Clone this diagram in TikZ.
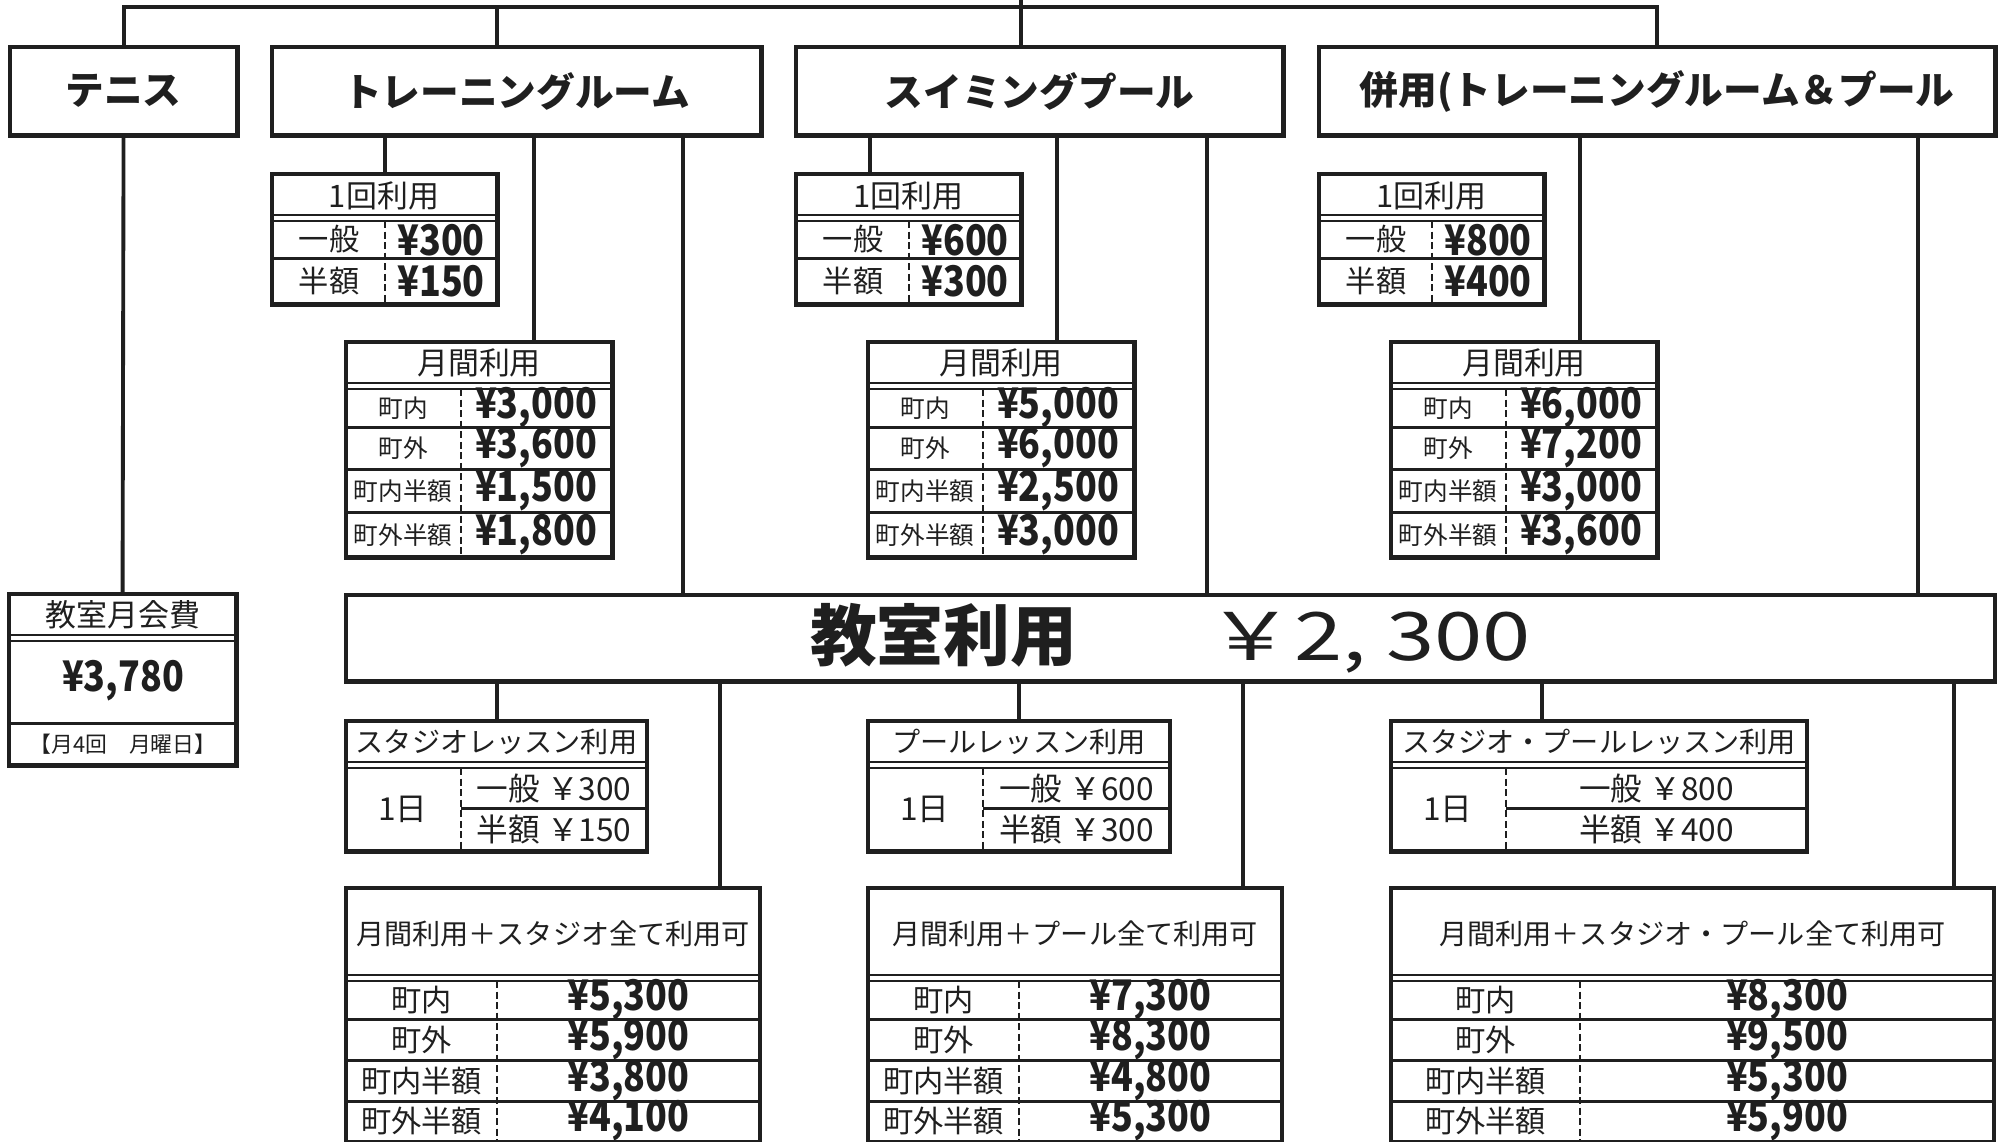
\documentclass[tikz,border=0pt]{standalone}
\usepackage{fontspec}
\setmainfont{Noto Sans CJK JP}

\begin{document}
\begin{tikzpicture}[x=0.01cm, y=-0.01cm, color=black!88,
  tbox/.style={draw, line width=1.4pt, anchor=north west, inner sep=0pt, outer sep=0pt},
  conn/.style={line width=1.1pt},
  hdrline/.style={line width=0.8pt},
  thinline/.style={line width=0.45pt},
  rowline/.style={line width=0.85pt},
  cut/.style={line width=0.5pt, dash pattern=on 2pt off 1pt},
  toplbl/.style={font=\fontsize{11}{13}\selectfont\bfseries},
  hdr/.style={font=\fontsize{8.8}{10}\selectfont},
  lhdr/.style={font=\fontsize{8}{10}\selectfont},
  celltxt/.style={font=\fontsize{8.6}{10}\selectfont},
  rowlbl/.style={font=\fontsize{7}{8}\selectfont},
  price/.style={font=\fontsize{12}{13}\selectfont\bfseries\addfontfeature{FakeStretch=0.85}},
  lesson/.style={font=\fontsize{9}{10}\selectfont},
  memo/.style={font=\fontsize{6.2}{7}\selectfont}]
\useasboundingbox (0,0) rectangle (2009,1141);
\clip (0,0) rectangle (2009,1141);

% Facilities
\node[tbox, minimum width=2.27cm, minimum height=0.88cm, toplbl] (tennis) at (10,47) {テニス};
\node[tbox, minimum width=4.89cm, minimum height=0.88cm, toplbl] (train) at (272,47) {トレーニングルーム};
\node[tbox, minimum width=4.87cm, minimum height=0.88cm, toplbl] (swim) at (796,47) {スイミングプール};
\node[tbox, minimum width=6.76cm, minimum height=0.88cm, toplbl] (both) at (1319,47) {併用(トレーニングルーム＆プール};

% One-time use
\foreach \n/\x/\a/\b in {t1/272/300/150, s1/796/600/300, b1/1319/800/400} {
  \node[tbox, minimum width=2.25cm, minimum height=1.3cm] (\n) at (\x,174) {};
  \node[hdr] (\n-h) at ({\x+112},196) {1回利用};
  \draw[hdrline] (\x,215) -- ++(225,0);
  \draw[thinline] (\x,221) -- ++(225,0);
  \draw[rowline] (\x,258) -- ++(225,0);
  \draw[cut] ({\x+113},221) -- ({\x+113},304);
  \node[celltxt] (\n-a) at ({\x+57},239) {一般};
  \node[price] (\n-av) at ({\x+169},240) {¥\a};
  \node[celltxt] (\n-b) at ({\x+57},281) {半額};
  \node[price] (\n-bv) at ({\x+169},281) {¥\b};
}

% Monthly use
\foreach \n/\x/\va/\vb/\vc/\vd in {tm/346/{3,000}/{3,600}/{1,500}/{1,800}, sm/868/{5,000}/{6,000}/{2,500}/{3,000}, bm/1391/{6,000}/{7,200}/{3,000}/{3,600}} {
  \node[tbox, minimum width=2.66cm, minimum height=2.15cm] (\n) at (\x,342) {};
  \node[hdr] (\n-h) at ({\x+133},363) {月間利用};
  \draw[hdrline] (\x,383) -- ++(266,0);
  \draw[thinline] (\x,389) -- ++(266,0);
  \foreach \yr in {427,469,512} \draw[rowline] (\x,\yr) -- ++(266,0);
  \draw[cut] ({\x+115},389) -- ({\x+115},557);
  \foreach \lab/\val/\yc [count=\i] in {町内/{\va}/408, 町外/{\vb}/448, 町内半額/{\vc}/491, 町外半額/{\vd}/535} {
    \node[rowlbl] (\n-l\i) at ({\x+57},\yc) {\lab};
    \node[price] (\n-v\i) at ({\x+190},\yc) {¥\val};
  }
}

% Class fee
\node[tbox, minimum width=2.27cm, minimum height=1.71cm] (fee) at (9,594) {};
\node[hdr] (fee-h) at (123,615) {教室月会費};
\draw[hdrline] (9,635) -- ++(227,0);
\draw[thinline] (9,641) -- ++(227,0);
\node[price] (fee-v) at (123,681) {¥3,780};
\draw[rowline] (9,723) -- ++(227,0);
\node[memo] (fee-m) at (123,744) {【月4回　月曜日】};

\node[tbox, minimum width=16.48cm, minimum height=0.86cm, font=\fontsize{19}{22}\selectfont\bfseries] (room) at (346,595)
  {教室利用\hspace{1.3cm}{\mdseries\addfontfeature{FakeStretch=1.3}￥2, 300}};

% Lessons
\foreach \n/\x/\w/\a/\b/\ttl in {sl/346/301/300/150/スタジオレッスン利用, pl/868/302/600/300/プールレッスン利用, spl/1391/416/800/400/スタジオ・プールレッスン利用} {
  \node[tbox, minimum width=\w*0.01cm, minimum height=1.3cm] (\n) at (\x,721) {};
  \node[lhdr] (\n-h) at ({\x+\w/2},742) {\ttl};
  \draw[hdrline] (\x,762) -- ++(\w,0);
  \draw[thinline] (\x,768) -- ++(\w,0);
  \draw[cut] ({\x+115},768) -- ({\x+115},851);
  \draw[rowline] ({\x+115},808) -- ({\x+\w},808);
  \node[lesson] (\n-d) at ({\x+57},809) {1日};
  \node[lesson] (\n-a) at ({\x+115+(\w-115)/2},788) {一般 ￥\a};
  \node[lesson] (\n-b) at ({\x+115+(\w-115)/2},829) {半額 ￥\b};
}

% Monthly use with lessons
\foreach \n/\x/\w/\d/\ttl/\va/\vb/\vc/\vd in {slm/346/414/151/月間利用＋スタジオ全て利用可/{5,300}/{5,900}/{3,800}/{4,100}, plm/868/414/151/月間利用＋プール全て利用可/{7,300}/{8,300}/{4,800}/{5,300}, splm/1391/603/189/月間利用＋スタジオ・プール全て利用可/{8,300}/{9,500}/{5,300}/{5,900}} {
  \node[tbox, minimum width=\w*0.01cm, minimum height=2.54cm] (\n) at (\x,888) {};
  \node[lhdr] (\n-h) at ({\x+\w/2},934) {\ttl};
  \draw[hdrline] (\x,975) -- ++(\w,0);
  \draw[thinline] (\x,981) -- ++(\w,0);
  \foreach \yr in {1019,1060,1101} \draw[rowline] (\x,\yr) -- ++(\w,0);
  \draw[cut] ({\x+\d},981) -- ({\x+\d},1142);
  \foreach \lab/\val/\yc [count=\i] in {町内/{\va}/1000, 町外/{\vb}/1040, 町内半額/{\vc}/1081, 町外半額/{\vd}/1121} {
    \node[celltxt] (\n-l\i) at ({\x+\d/2},\yc) {\lab};
    \node[price] (\n-v\i) at ({\x+\d+(\w-\d)/2},\yc) {¥\val};
  }
}

% Connectors
\coordinate (top) at (1021,0);
\coordinate (bar) at (1021,7);
\draw[conn] (tennis.north) |- (bar) -| (both.north);
\draw[conn] (top) -- (swim.north -| top);
\draw[conn] (train.north -| 497,0) -- (bar -| 497,0);
\draw[conn] (tennis.south) -- (fee.north);
\foreach \xa/\tgt in {385/t1, 534/tm, 683/room}
  \draw[conn] (train.south -| \xa,0) -- (\tgt.north -| \xa,0);
\foreach \xa/\tgt in {870/s1, 1057/sm, 1207/room}
  \draw[conn] (swim.south -| \xa,0) -- (\tgt.north -| \xa,0);
\foreach \xa/\tgt in {1580/bm, 1918/room}
  \draw[conn] (both.south -| \xa,0) -- (\tgt.north -| \xa,0);
\foreach \xa/\tgt in {497/sl, 720/slm, 1019/pl, 1243/plm, 1542/spl, 1954/splm}
  \draw[conn] (room.south -| \xa,0) -- (\tgt.north -| \xa,0);
\end{tikzpicture}
\end{document}
